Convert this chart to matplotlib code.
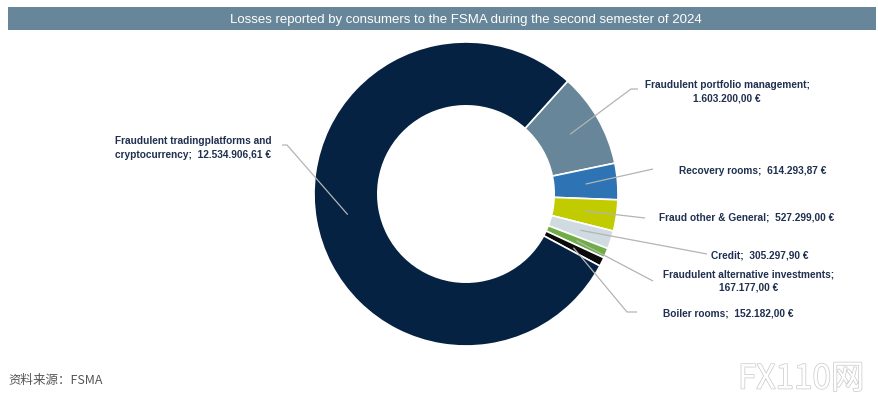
import numpy as np
import matplotlib
matplotlib.use("Agg")
import matplotlib.pyplot as plt
from matplotlib.patches import Rectangle
import matplotlib.patheffects as pe

# data, clockwise from the portfolio slice
categories = ["Fraudulent portfolio management",
              "Recovery rooms",
              "Fraud other & General",
              "Credit",
              "Fraudulent alternative investments",
              "Boiler rooms",
              "Fraudulent tradingplatforms and cryptocurrency"]
amounts = [1603200.00, 614293.87, 527299.00, 305297.90, 167177.00, 152182.00, 12534906.61]
amount_labels = ["1.603.200,00 €", "614.293,87 €", "527.299,00 €", "305.297,90 €",
                 "167.177,00 €", "152.182,00 €", "12.534.906,61 €"]
colors = ["#67869A", "#2E74B5", "#C0CC00", "#CFDAE1", "#70AD47", "#0A0A0A", "#062242"]

title = "Losses reported by consumers to the FSMA during the second semester of 2024"
source = "资料来源：FSMA"

W, H = 879, 402
fig = plt.figure(figsize=(W / 100, H / 100), dpi=100)
ax = fig.add_axes([0, 0, 1, 1])


def py(y):
    # pixel row (from top) -> data y
    return H - y


cx, cy, R = 466, py(195), 152
wedges, _ = ax.pie(amounts, colors=colors, startangle=48, counterclock=False,
                   center=(cx, cy), radius=R,
                   wedgeprops=dict(width=R * 0.42, edgecolor="white", linewidth=1.2),
                   frame=True)
ax.set_xlim(0, W)
ax.set_ylim(0, H)
ax.set_aspect("equal")
ax.axis("off")

# title bar
ax.add_patch(Rectangle((8, py(31)), 868, 23, facecolor="#67869A", edgecolor="none"))
ax.text(466, py(19.5), title, ha="center", va="center", color="white",
        fontsize=9.5, family="Liberation Sans")

# labels
label_text = [
    "Fraudulent portfolio management;\n" + amount_labels[0],
    "Recovery rooms;  " + amount_labels[1],
    "Fraud other & General;  " + amount_labels[2],
    "Credit;  " + amount_labels[3],
    "Fraudulent alternative investments;\n" + amount_labels[4],
    "Boiler rooms;  " + amount_labels[5],
    "Fraudulent tradingplatforms and\ncryptocurrency;  " + amount_labels[6],
]
label_pos = [(727, 92, "center"), (753, 171, "center"), (747, 218, "center"),
             (760, 255, "center"), (749, 281, "center"), (728, 314, "center"),
             (115, 148, "left")]
line_pts = [[(638, 90), (631, 90)], [(653, 170)], [(645, 219)], [(707, 255)],
            [(653, 282)], [(637, 313), (627, 313)], [(282, 146), (287, 146)]]

text_color = "#1F3050"
for w, txt, (tx, ty, ha), pts in zip(wedges, label_text, label_pos, line_pts):
    mid = np.deg2rad((w.theta1 + w.theta2) / 2)
    wx = cx + 0.79 * R * np.cos(mid)
    wy = cy + 0.79 * R * np.sin(mid)
    xs = [p[0] for p in pts] + [wx]
    ys = [py(p[1]) for p in pts] + [wy]
    ax.plot(xs, ys, color="#B4B4B4", lw=0.9, solid_capstyle="butt", zorder=3)
    ax.text(tx, py(ty), txt, ha=ha, va="center", multialignment=ha,
            fontsize=7.3, fontweight="bold", color=text_color,
            family="Liberation Sans", linespacing=1.45)

# source note
ax.text(8, py(381), source, ha="left", va="center", fontsize=9, color="#555555",
        family=["Noto Sans CJK SC", "DejaVu Sans"])

# watermark
ax.text(864, py(380), "FX110网", ha="right", va="center", fontsize=24, color="white",
        family=["Noto Sans CJK SC", "DejaVu Sans"],
        path_effects=[pe.Stroke(linewidth=1.1, foreground="#CDCDCD"), pe.Normal()])

fig.savefig("out.png", dpi=100)
